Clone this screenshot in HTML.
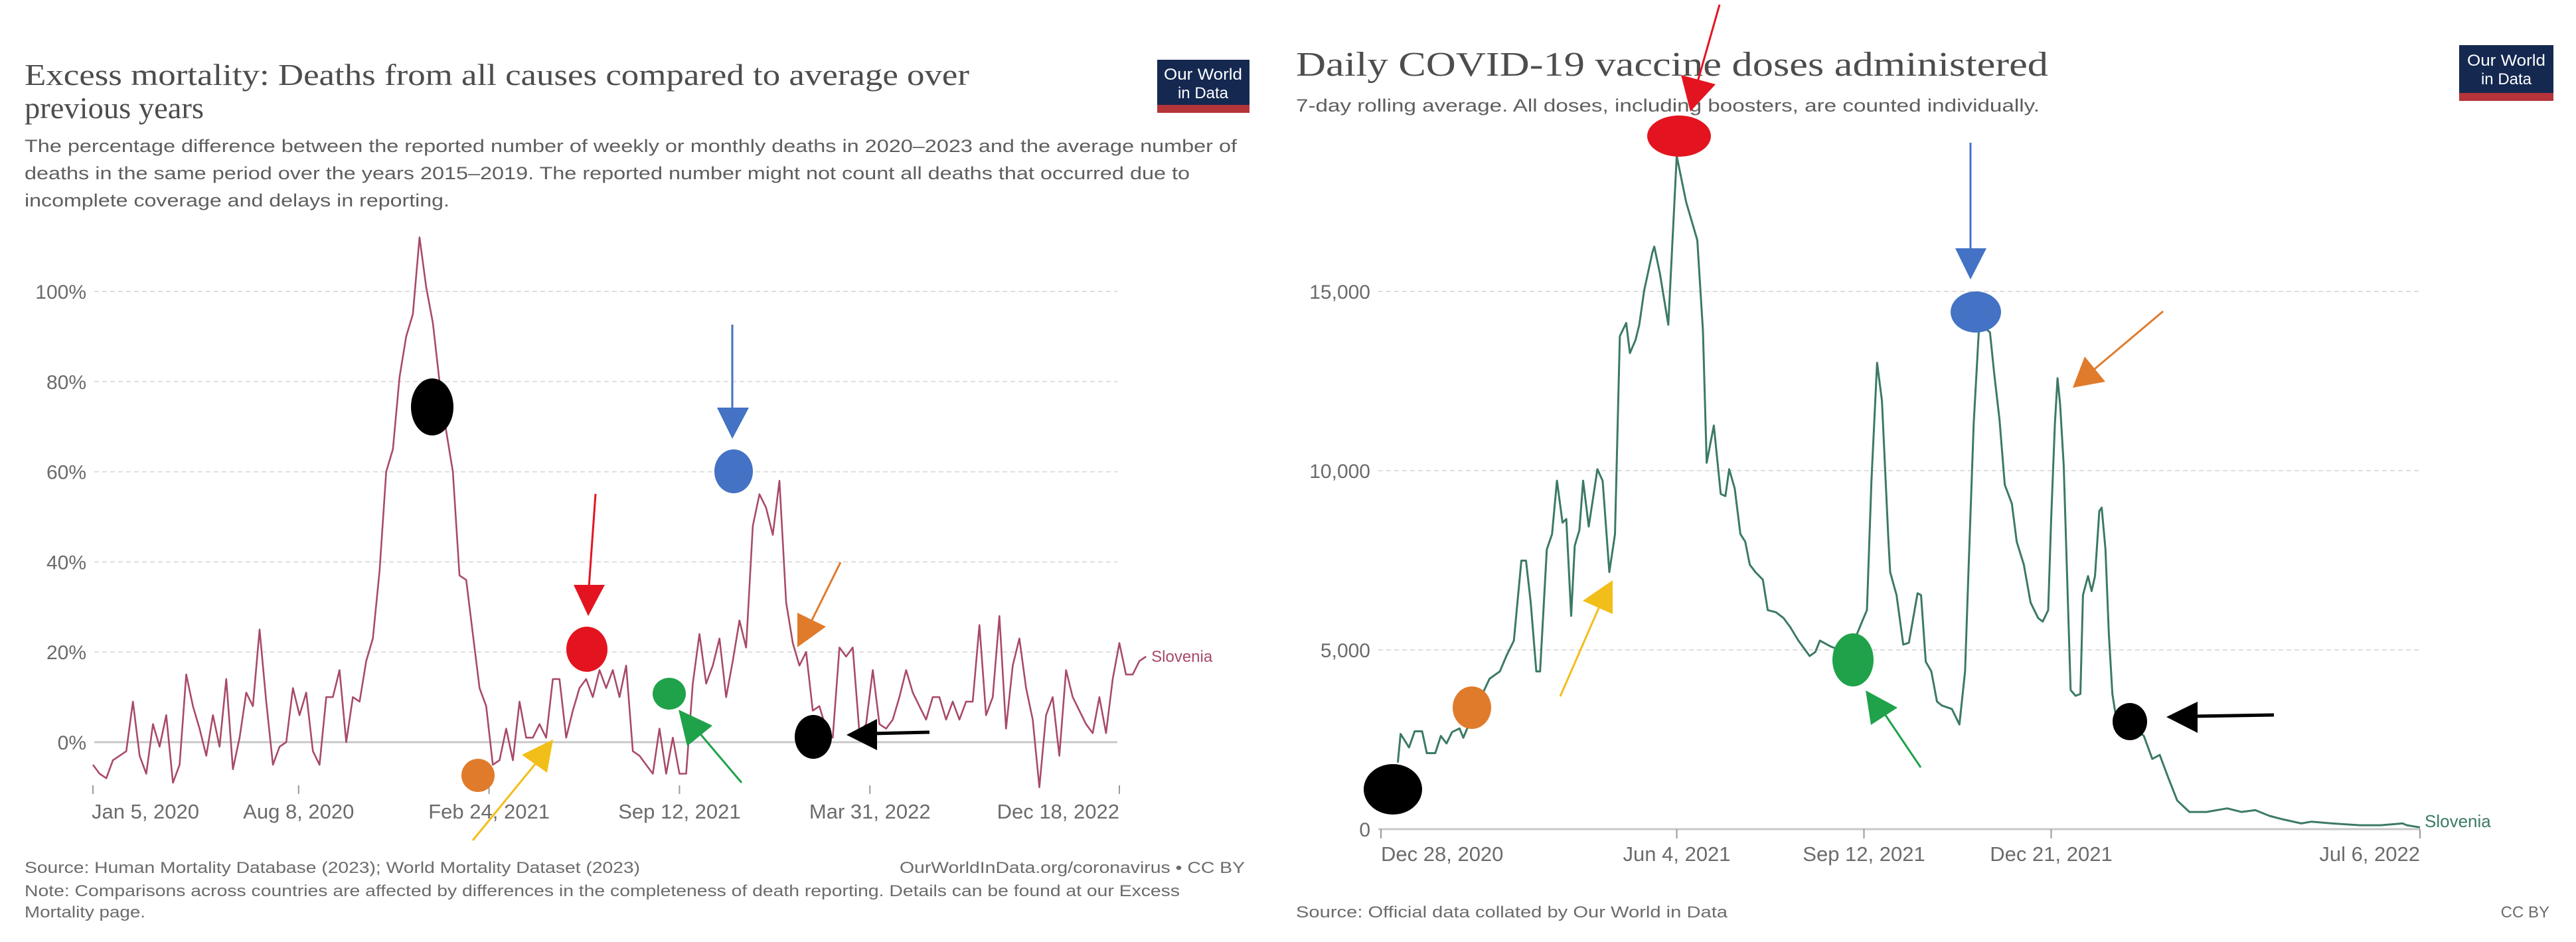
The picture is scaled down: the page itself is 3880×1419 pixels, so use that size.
<!DOCTYPE html>
<html><head><meta charset="utf-8">
<style>
html,body{margin:0;padding:0;background:#fff;}
svg{display:block;}
.sans{font-family:"Liberation Sans",sans-serif;}
.serif{font-family:"Liberation Serif",serif;}
</style></head>
<body>
<svg id="root" width="3880" height="1419" viewBox="0 0 3880 1419" xmlns="http://www.w3.org/2000/svg">
<rect width="3880" height="1419" fill="#fff"/>

<!-- LEFT CHART HEADER -->
<g>
<text class="serif" x="37" y="128" font-size="46" fill="#4d4d4d" textLength="1423" lengthAdjust="spacingAndGlyphs">Excess mortality: Deaths from all causes compared to average over</text>
<text class="serif" x="37" y="178" font-size="46" fill="#4d4d4d" textLength="270" lengthAdjust="spacingAndGlyphs">previous years</text>
<text class="sans" x="37" y="229" font-size="27" fill="#5e5e5e" textLength="1826" lengthAdjust="spacingAndGlyphs">The percentage difference between the reported number of weekly or monthly deaths in 2020–2023 and the average number of</text>
<text class="sans" x="37" y="270" font-size="27" fill="#5e5e5e" textLength="1755" lengthAdjust="spacingAndGlyphs">deaths in the same period over the years 2015–2019. The reported number might not count all deaths that occurred due to</text>
<text class="sans" x="37" y="311" font-size="27" fill="#5e5e5e" textLength="640" lengthAdjust="spacingAndGlyphs">incomplete coverage and delays in reporting.</text>
</g>
<g>
<rect x="1743" y="90" width="139" height="80" fill="#142850"/>
<rect x="1743" y="158" width="139" height="12" fill="#b4343a"/>
<text class="sans" x="1812" y="120" font-size="24" fill="#fff" text-anchor="middle" textLength="118" lengthAdjust="spacingAndGlyphs">Our World</text>
<text class="sans" x="1812" y="148" font-size="24" fill="#fff" text-anchor="middle">in Data</text>
</g>

<!-- RIGHT CHART HEADER -->
<g>
<text class="serif" x="1952" y="114" font-size="52" fill="#4d4d4d" textLength="1133" lengthAdjust="spacingAndGlyphs">Daily COVID-19 vaccine doses administered</text>
<text class="sans" x="1952" y="168" font-size="27" fill="#5e5e5e" textLength="1120" lengthAdjust="spacingAndGlyphs">7-day rolling average. All doses, including boosters, are counted individually.</text>
</g>
<g>
<rect x="3704" y="68" width="142" height="84" fill="#142850"/>
<rect x="3704" y="140" width="142" height="12" fill="#b4343a"/>
<text class="sans" x="3775" y="99" font-size="24" fill="#fff" text-anchor="middle" textLength="118" lengthAdjust="spacingAndGlyphs">Our World</text>
<text class="sans" x="3775" y="127" font-size="24" fill="#fff" text-anchor="middle">in Data</text>
</g>

<g id="leftChart"></g>
<g id="rightChart"></g>

<!-- FOOTERS -->
<g>
<text class="sans" x="37" y="1315" font-size="24" fill="#6b6b6b" textLength="927" lengthAdjust="spacingAndGlyphs">Source: Human Mortality Database (2023); World Mortality Dataset (2023)</text>
<text class="sans" x="1875" y="1315" font-size="24" fill="#6b6b6b" text-anchor="end" textLength="520" lengthAdjust="spacingAndGlyphs">OurWorldInData.org/coronavirus • CC BY</text>
<text class="sans" x="37" y="1350" font-size="24" fill="#6b6b6b" textLength="1740" lengthAdjust="spacingAndGlyphs">Note: Comparisons across countries are affected by differences in the completeness of death reporting. Details can be found at our Excess</text>
<text class="sans" x="37" y="1382" font-size="24" fill="#6b6b6b" textLength="182" lengthAdjust="spacingAndGlyphs">Mortality page.</text>
</g>
<g>
<text class="sans" x="1952" y="1382" font-size="24" fill="#6b6b6b" textLength="650" lengthAdjust="spacingAndGlyphs">Source: Official data collated by Our World in Data</text>
<text class="sans" x="3840" y="1382" font-size="24" fill="#6b6b6b" text-anchor="end">CC BY</text>
</g>

<g id="annotations"></g>
</svg>

<script>
// ===== LEFT CHART DATA (weekly excess mortality %, Slovenia, from Jan 5, 2020) =====
const leftStartDate = "2020-01-05";
const leftValues = [-5,-7,-8,-4,-3,-2,9,-3,-7,4,-1,6,-9,-5,15,8,3,-3,6,-1,14,-6,1,11,8,25,9,-5,-1,0,12,6,11,-2,-5,10,10,16,0,10,9,18,23,38,60,65,81,90,95,112,101,93,80,69,60,37,36,24,12,8,-5,-4,3,-4,9,1,1,4,1,14,14,1,7,12,14,10,16,12,16,10,17,-2,-3,-5,-7,3,-7,1,-7,-7,13,24,13,17,23,10,18,27,21,48,55,52,46,58,31,22,17,20,7,8,3,1,21,19,21,2,4,16,4,3,5,10,16,11,8,5,10,10,5,9,5,9,9,26,6,10,28,3,17,23,12,5,-10,6,10,-3,16,10,7,4,2,10,2,14,22,15,15,18,19];
const leftYTicks = [0,20,40,60,80,100];
const leftYLabels = ["0%","20%","40%","60%","80%","100%"];
const leftXTickDates = ["2020-01-05","2020-08-08","2021-02-24","2021-09-12","2022-03-31","2022-12-18"];
const leftXTickLabels = ["Jan 5, 2020","Aug 8, 2020","Feb 24, 2021","Sep 12, 2021","Mar 31, 2022","Dec 18, 2022"];

// ===== RIGHT CHART DATA (daily doses, 7-day avg, days since Dec 28, 2020) =====
const rightStartDate = "2020-12-28";
const rightDays = [9,10.5,15,18,22,24.5,29,32,35,38,42,44,50,58,63.5,67,71,75,77.5,80,83,85,88.6,91.4,94,97,99,101.6,103.5,106,108,111,115.6,118.4,122,125,127.6,131,133,136,138,140.6,145,146,149,153.5,158,163,169,172,174,177.8,181.5,184,186,189,192,194.6,197,200,204,206.6,211,215,218.7,223,229,232,234.5,240,250,257,259.6,262,265,267.6,271,272,275.4,279,282,286.6,288.5,291,294,297,299.6,305,309,312,313.8,316.6,319.3,321,323,325.3,327.6,330.4,333.2,337,339.6,343.4,347,351,353.5,356.4,358,360,361.4,362.8,364.7,366.5,368.4,371,373.6,375,377.7,379.6,381.4,383.7,385,387,388.8,390.7,392.6,400,407.5,412,416,420.6,425.3,431.8,441,452,459.6,467,474.6,482,491.6,497,508,523,534,545.7,548,555];
const rightValues = [1860,2655,2280,2730,2730,2120,2120,2600,2390,2710,2810,2550,3300,4195,4400,4830,5260,7490,7490,6320,4400,4400,7800,8230,9720,8550,8650,5950,7910,8340,9720,8440,10040,9720,7170,8230,13750,14120,13280,13650,14070,15030,16090,16250,15500,14070,18780,17500,16430,13900,10220,11260,9350,9290,10040,9500,8230,8020,7380,7170,6960,6110,6050,5890,5630,5260,4830,4940,5260,5100,4900,5790,6110,9720,13010,11950,8120,7170,6530,5150,5200,6580,6530,4670,4400,3560,3450,3350,2920,4400,7170,11310,13860,14500,13960,13860,12690,11420,9610,9080,8020,7380,6320,5890,5790,6110,8660,11310,12580,11840,10140,7060,3880,3720,3770,6530,7060,6640,7060,8870,8970,7800,5470,3770,3130,2900,2600,1960,2070,1430,800,480,480,580,480,530,370,270,160,210,160,110,110,160,110,50];
const rightYTicks = [0,5000,10000,15000];
const rightYLabels = ["0","5,000","10,000","15,000"];
const rightXTickDates = ["2020-12-28","2021-06-04","2021-09-12","2021-12-21","2022-07-06"];
const rightXTickLabels = ["Dec 28, 2020","Jun 4, 2021","Sep 12, 2021","Dec 21, 2021","Jul 6, 2022"];

const NS = "http://www.w3.org/2000/svg";
function mk(tag, attrs, parent){ const e=document.createElementNS(NS,tag); for(const k in attrs) e.setAttribute(k,attrs[k]); parent.appendChild(e); return e; }
const DAY = 86400000;
function dayDiff(a,b){ return (Date.parse(b)-Date.parse(a))/DAY; }

// ---------- LEFT ----------
(function(){
  const g = document.getElementById('leftChart');
  const x0=140, x1=1686, y0=1118, yTop=439;
  const span = dayDiff("2020-01-05","2022-12-18");
  const xS = d => x0 + (x1-x0)*dayDiff("2020-01-05", d)/span;
  const xDays = n => x0 + (x1-x0)*n/span;
  const yS = v => y0 - (y0-yTop)*v/100;
  leftYTicks.forEach((t,i)=>{
    const ln = mk('line',{x1:142,x2:1683,y1:yS(t),y2:yS(t),stroke:t===0?'#c8c8c8':'#dedede','stroke-width':t===0?3:2,'stroke-dasharray':t===0?'none':'7 5'},g);
    
    
    const tx = mk('text',{x:130,y:yS(t)+11,'font-size':30,fill:'#6b6b6b','text-anchor':'end',class:'sans'},g);
    tx.textContent = leftYLabels[i];
    
    
  });
  leftXTickDates.forEach((d,i)=>{
    const x = xS(d);
    const tk = mk('line',{x1:x,x2:x,y1:1183,y2:1196,stroke:'#999','stroke-width':2},g);
    
    
    const anchor = i===0?'start':(i===leftXTickDates.length-1?'end':'middle');
    const tx = mk('text',{x:i===0?x-2:x,y:1233,'font-size':31,fill:'#6b6b6b','text-anchor':anchor,class:'sans'},g);
    tx.textContent = leftXTickLabels[i];
    
    
  });
  const pts = leftValues.map((v,i)=> xDays(7*i).toFixed(1)+','+yS(v).toFixed(1));
  const pl = mk('polyline',{points:pts.join(' '),fill:'none',stroke:'#a84a66','stroke-width':2.6,'stroke-linejoin':'round'},g);
  
  
  const last = leftValues.length-1;
  const lb = mk('text',{x:xDays(7*last)+8,y:yS(leftValues[last])+8,'font-size':24,fill:'#a84a66',class:'sans'},g);
  lb.textContent='Slovenia';
  
  
})();

// ---------- RIGHT ----------
(function(){
  const g = document.getElementById('rightChart');
  const x0=2080, x1=3645, y0=1249, y15=439;
  const span = dayDiff("2020-12-28","2022-07-06");
  const xS = d => x0 + (x1-x0)*dayDiff("2020-12-28", d)/span;
  const xDays = n => x0 + (x1-x0)*n/span;
  const yS = v => y0 - (y0-y15)*v/15000;
  rightYTicks.forEach((t,i)=>{
    const ln = mk('line',{x1:2076,x2:3645,y1:yS(t),y2:yS(t),stroke:t===0?'#c8c8c8':'#dedede','stroke-width':t===0?3:2,'stroke-dasharray':t===0?'none':'7 5'},g);
    
    
    const tx = mk('text',{x:2064,y:yS(t)+11,'font-size':30,fill:'#6b6b6b','text-anchor':'end',class:'sans'},g);
    tx.textContent = rightYLabels[i];
    
    
  });
  rightXTickDates.forEach((d,i)=>{
    const x = xS(d);
    const tk = mk('line',{x1:x,x2:x,y1:1249,y2:1263,stroke:'#999','stroke-width':2},g);
    
    
    const anchor = i===0?'start':(i===rightXTickDates.length-1?'end':'middle');
    const tx = mk('text',{x:x,y:1297,'font-size':31,fill:'#6b6b6b','text-anchor':anchor,class:'sans'},g);
    tx.textContent = rightXTickLabels[i];
    
    
  });
  const pts = rightDays.map((d,i)=> xDays(d).toFixed(1)+','+yS(rightValues[i]).toFixed(1));
  const pl = mk('polyline',{points:pts.join(' '),fill:'none',stroke:'#3b7a63','stroke-width':3,'stroke-linejoin':'round'},g);
  
  
  const lb = mk('text',{x:3652,y:1246,'font-size':26,fill:'#3b7a63',class:'sans'},g);
  lb.textContent='Slovenia';
  
  
})();

// ---------- ANNOTATIONS (decorative ellipses & arrows) ----------
(function(){
  const g = document.getElementById('annotations');
  function ell(cx,cy,rx,ry,c){
    const e = mk('ellipse',{cx:cx,cy:cy,rx:rx,ry:ry,fill:c},g);
    
    
  }
  function arrow(tx,ty,hx,hy,tip,b1,b2,c,w){
    const a = mk('g',{},g);
    
    
    mk('line',{x1:tx,y1:ty,x2:hx,y2:hy,stroke:c,'stroke-width':w},a);
    mk('polygon',{points:tip.join(',')+' '+b1.join(',')+' '+b2.join(','),fill:c},a);
  }
  // left chart
  ell(651,613,32,43,'#000');
  ell(720,1168,25,25,'#e07b2c');
  arrow(712,1266,815,1140,[833,1114],[786,1137],[824,1164],'#f2be1a',3);
  arrow(897,744,887,885,[886,928],[864,881],[911,881],'#e3141f',3);
  ell(884,978,31,34,'#e3141f');
  ell(1008,1045,25,24,'#1fa24a');
  arrow(1117,1179,1050,1100,[1022,1069],[1073,1093],[1035,1124],'#1fa24a',3);
  arrow(1103,489,1103,620,[1103,661],[1080,614],[1128,614],'#4472c4',3);
  ell(1105,710,29,33,'#4472c4');
  arrow(1266,847,1220,940,[1201,975],[1201,923],[1244,944],'#e07b2c',3);
  ell(1225,1110,28,33,'#000');
  arrow(1400,1103,1315,1105,[1275,1107],[1321,1083],[1321,1130],'#000',5);
  // right chart
  ell(2098,1189,44,38,'#000');
  ell(2217,1066,29,32,'#e07b2c');
  arrow(2350,1049,2415,900,[2429,874],[2384,905],[2429,925],'#f2be1a',3);
  arrow(2590,7,2555,130,[2546,168],[2532,113],[2584,127],'#e3141f',3);
  ell(2529,205,48,31,'#e3141f');
  arrow(2968,215,2968,380,[2968,421],[2945,374],[2992,374],'#4472c4',3);
  ell(2976,470,38,31,'#4472c4');
  arrow(3258,469,3150,560,[3122,584],[3140,537],[3171,575],'#e07b2c',3);
  ell(2791,994,31,40,'#1fa24a');
  arrow(2893,1156,2835,1070,[2810,1040],[2858,1066],[2818,1092],'#1fa24a',3);
  ell(3208,1087,26,28,'#000');
  arrow(3425,1077,3300,1079,[3263,1080],[3310,1057],[3310,1104],'#000',5);
})();
</script>
</body></html>
